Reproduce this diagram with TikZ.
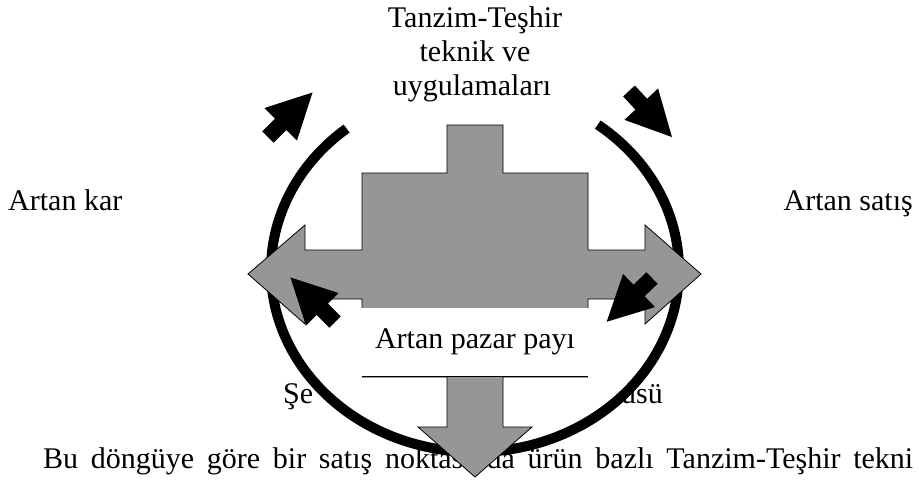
\documentclass[tikz,border=0pt]{standalone}
\usepackage{fontspec}
\setmainfont{Liberation Serif}
\usepackage{tikz}
\definecolor{armgray}{RGB}{150,150,150}

\begin{document}
\begin{tikzpicture}[x=1pt, y=-1pt,
	lbl/.style={font=\fontsize{30}{34}\selectfont, inner sep=0pt},
	pazarbox/.style={lbl, fill=white, minimum width=230pt, minimum height=69pt}]
	\def\cx{475};
	\def\cy{270};
	\def\rx{204};
	\def\ry{182};

	\useasboundingbox (0,0) rectangle (919,483);

	\begin{scope}
		\node[lbl, anchor=base west] (sekilL) at (283,403) {Şe};
		\node[lbl, anchor=base east] (sekilR) at (663,403) {üsü};
		\node[lbl, anchor=base west] (metin) at (43,468)
			{\makebox[870pt][s]{Bu döngüye göre bir satış noktasında ürün bazlı Tanzim-Teşhir tekni}};
	\end{scope}

	\draw[line width=10pt, fill=white] ({\cx+\rx*cos(-129)},{\cy+\ry*sin(-129)})
		arc[start angle=-129, end angle=-413, x radius=\rx, y radius=\ry];

	\draw[fill=armgray, line width=0.8pt] (447,125) -- (503,125) -- (503,173) -- (588,173)
		-- (588,250) -- (645,250) -- (645,225) -- (701,274) -- (645,324) -- (645,299)
		-- (588,299) -- (588,377) -- (503,377) -- (503,427) -- (532,427) -- (475,477)
		-- (418,427) -- (447,427) -- (447,377) -- (362,377) -- (362,299) -- (305,299)
		-- (305,324) -- (248,274) -- (305,225) -- (305,250) -- (362,250) -- (362,173)
		-- (447,173) -- cycle;

	\node[pazarbox] (pazar) at (475,342) {Artan pazar payı};
	\draw[line width=0.8pt] ([xshift=2pt]pazar.south west) -- ([xshift=-2pt]pazar.south east);

	\node[lbl, anchor=base] (tanzim) at (475,27) {Tanzim-Teşhir};
	\node[lbl, anchor=base] (teknik) at (475,61) {teknik ve};
	\node[lbl, anchor=base] (uygulama) at (472,95) {uygulamaları};
	\node[lbl, anchor=base west] (kar) at (8,210) {Artan kar};
	\node[lbl, anchor=base east] (satis) at (913,210) {Artan satış};

	\foreach \x/\y/\r in {268/137/45, 629/91/-47, 335/322/135, 652/278/224}
	{
		\begin{scope}[shift={(\x,\y)}, rotate=\r]
			\fill (0,-8) -- (18,-8) -- (18,-23) -- (63,0) -- (18,23) -- (18,8) -- (0,8) -- cycle;
		\end{scope}
	}
\end{tikzpicture}
\end{document}
